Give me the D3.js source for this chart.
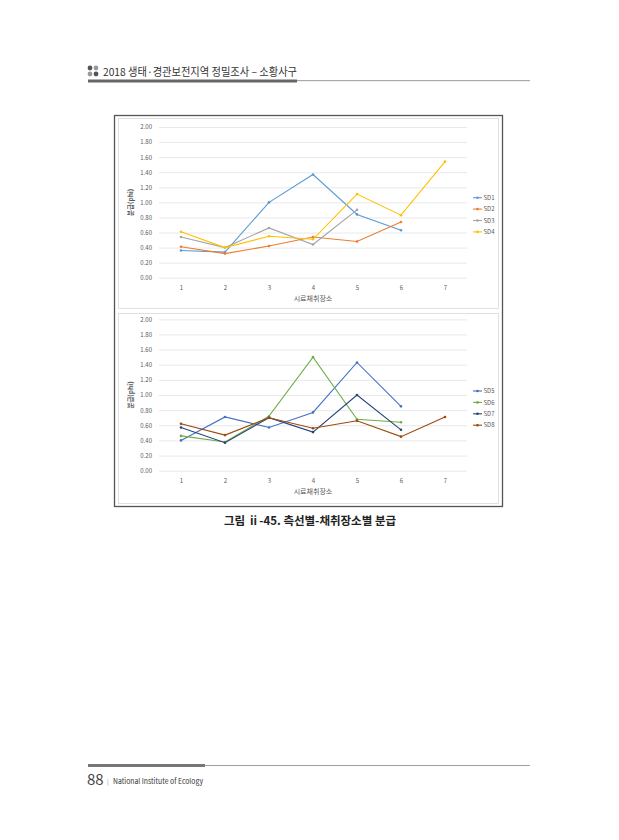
<!DOCTYPE html>
<html>
<head>
<meta charset="utf-8">
<script src="https://cdn.jsdelivr.net/npm/d3@7"></script>
<style>
  body { margin: 0; background: #fff; }
  svg { display: block; }
  text { font-family: "Noto Sans CJK KR", "Noto Sans", sans-serif; }
</style>
</head>
<body>
<div id="page"></div>
<script>
// sampling sites (x categories)
const sites = [1, 2, 3, 4, 5, 6, 7];
const yTicks = [0, 0.2, 0.4, 0.6, 0.8, 1.0, 1.2, 1.4, 1.6, 1.8, 2.0];

// top panel: SD1 - SD4
const topNames = ['SD1', 'SD2', 'SD3', 'SD4'];
const sd1 = [0.36, 0.34, 1.00, 1.37, 0.84, 0.63];
const sd2 = [0.41, 0.32, 0.42, 0.54, 0.48, 0.74];
const sd3 = [0.54, 0.40, 0.66, 0.44, 0.90];
const sd4 = [0.61, 0.40, 0.55, 0.51, 1.11, 0.83, 1.54];

// bottom panel: SD5 - SD8
const bottomNames = ['SD5', 'SD6', 'SD7', 'SD8'];
const sd5 = [0.40, 0.71, 0.57, 0.77, 1.43, 0.85];
const sd6 = [0.46, 0.38, 0.72, 1.50, 0.68, 0.64];
const sd7 = [0.57, 0.37, 0.70, 0.51, 1.00, 0.54];
const sd8 = [0.62, 0.47, 0.70, 0.56, 0.66, 0.45, 0.71];

const topColors = ['#5B9BD5', '#ED7D31', '#A5A5A5', '#FFC000'];
const bottomColors = ['#4472C4', '#70AD47', '#264478', '#9E480E'];

const W = 619, H = 840;
const svg = d3.select('#page').append('svg')
    .attr('width', W)
    .attr('height', H);

// ---- page header ----
const header = svg.append('g');
[[90, 68, '#555'], [96, 68, '#999'], [90, 74, '#999'], [96, 74, '#555']].forEach(([cx, cy, c]) => {
    header.append('circle').attr('cx', cx).attr('cy', cy).attr('r', 2.4).attr('fill', c);
});
header.append('text')
    .attr('x', 103).attr('y', 76)
    .attr('font-size', 11)
    .attr('fill', '#333')
    .attr('textLength', 194)
    .attr('lengthAdjust', 'spacingAndGlyphs')
    .text('2018 생태·경관보전지역  정밀조사 – 소황사구');
header.append('rect').attr('x', 88).attr('y', 80).attr('width', 530 - 88).attr('height', 1.2).attr('fill', '#aaa');
header.append('rect').attr('x', 88).attr('y', 79.5).attr('width', 209).attr('height', 3).attr('fill', '#666');

// ---- figure frame ----
svg.append('rect')
    .attr('x', 114.5).attr('y', 115.5)
    .attr('width', 388).attr('height', 391)
    .attr('fill', '#fff')
    .attr('stroke', '#555')
    .attr('stroke-width', 1.3);

const xScale = d3.scalePoint()
    .domain(sites)
    .range([159, 467])
    .padding(0.5);

function drawPanel(opts) {
    const g = svg.append('g');

    // chart area frame
    g.append('rect')
        .attr('x', 118.5).attr('y', opts.frameTop + 0.5)
        .attr('width', 380).attr('height', opts.frameBottom - opts.frameTop)
        .attr('fill', '#fff')
        .attr('stroke', '#d9d9d9')
        .attr('stroke-width', 0.8);

    const yScale = d3.scaleLinear()
        .domain([0, 2])
        .range([opts.y0, opts.y2]);

    // gridlines
    const yAxis = d3.axisLeft(yScale)
        .tickValues(yTicks)
        .tickSize(-(467 - 159))
        .tickPadding(7)
        .tickFormat(d3.format('.2f'));
    const ya = g.append('g')
        .attr('transform', 'translate(159,0)')
        .call(yAxis);
    ya.select('.domain').remove();
    ya.selectAll('line').attr('stroke', '#e3e3e3').attr('stroke-width', 0.8);
    ya.selectAll('text')
        .attr('font-size', 6)
        .attr('fill', '#595959')
        .attr('font-family', 'Liberation Sans, sans-serif');

    const xAxis = d3.axisBottom(xScale).tickSize(0).tickPadding(8);
    const xa = g.append('g')
        .attr('transform', `translate(0,${opts.y0})`)
        .call(xAxis);
    xa.select('.domain').remove();
    xa.selectAll('text')
        .attr('font-size', 6)
        .attr('fill', '#595959')
        .attr('font-family', 'Liberation Sans, sans-serif');

    // axis titles
    g.append('text')
        .attr('x', 313).attr('y', opts.y0 + 23)
        .attr('text-anchor', 'middle')
        .attr('font-size', 7)
        .attr('fill', '#595959')
        .text('시료채취장소');
    g.append('text')
        .attr('transform', `translate(133,${(opts.y0 + opts.y2) / 2}) rotate(-90)`)
        .attr('text-anchor', 'middle')
        .attr('font-size', 6.5)
        .attr('font-weight', 'bold')
        .attr('fill', '#595959')
        .text('분급(phi)');

    const line = d3.line()
        .x((d, i) => xScale(sites[i]))
        .y(d => yScale(d));

    opts.series.forEach((s, k) => {
        g.append('path')
            .datum(s)
            .attr('d', line)
            .attr('fill', 'none')
            .attr('stroke', opts.colors[k])
            .attr('stroke-width', 1.1);
        g.selectAll(null)
            .data(s)
            .enter()
            .append('circle')
            .attr('cx', (d, i) => xScale(sites[i]))
            .attr('cy', d => yScale(d))
            .attr('r', 1.3)
            .attr('fill', opts.colors[k]);
    });

    // legend
    opts.names.forEach((name, k) => {
        const ly = opts.legendTop + k * 11.4;
        g.append('line')
            .attr('x1', 473).attr('x2', 482)
            .attr('y1', ly).attr('y2', ly)
            .attr('stroke', opts.colors[k])
            .attr('stroke-width', 1.1);
        g.append('circle')
            .attr('cx', 477.5).attr('cy', ly).attr('r', 1.3)
            .attr('fill', opts.colors[k]);
        g.append('text')
            .attr('x', 483.5).attr('y', ly + 2.2)
            .attr('font-size', 6)
            .attr('fill', '#595959')
            .attr('font-family', 'Liberation Sans, sans-serif')
            .text(name);
    });
}

drawPanel({
    frameTop: 118, frameBottom: 308,
    y0: 277.7, y2: 127,
    series: [sd1, sd2, sd3, sd4],
    names: topNames,
    colors: topColors,
    legendTop: 197.7
});

drawPanel({
    frameTop: 313, frameBottom: 503,
    y0: 470.7, y2: 319.3,
    series: [sd5, sd6, sd7, sd8],
    names: bottomNames,
    colors: bottomColors,
    legendTop: 391
});

// ---- caption ----
svg.append('text')
    .attr('x', 310).attr('y', 525)
    .attr('text-anchor', 'middle')
    .attr('font-size', 11.5)
    .attr('font-weight', 'bold')
    .attr('fill', '#222')
    .text('그림 ⅱ-45. 측선별-채취장소별 분급');

// ---- footer ----
svg.append('rect').attr('x', 88).attr('y', 765).attr('width', 530 - 88).attr('height', 0.8).attr('fill', '#888');
svg.append('rect').attr('x', 88).attr('y', 764).attr('width', 117).attr('height', 3).attr('fill', '#777');
svg.append('text')
    .attr('x', 87).attr('y', 785)
    .attr('font-size', 15)
    .attr('fill', '#444')
    .attr('font-family', 'Liberation Sans, sans-serif')
    .text('88');
svg.append('text')
    .attr('x', 107).attr('y', 784)
    .attr('font-size', 6)
    .attr('fill', '#888')
    .text('|');
svg.append('text')
    .attr('x', 113).attr('y', 784)
    .attr('font-size', 7.5)
    .attr('fill', '#333')
    .attr('font-family', 'Liberation Sans, sans-serif')
    .attr('textLength', 90)
    .attr('lengthAdjust', 'spacingAndGlyphs')
    .text('National Institute of Ecology');
</script>
</body>
</html>
